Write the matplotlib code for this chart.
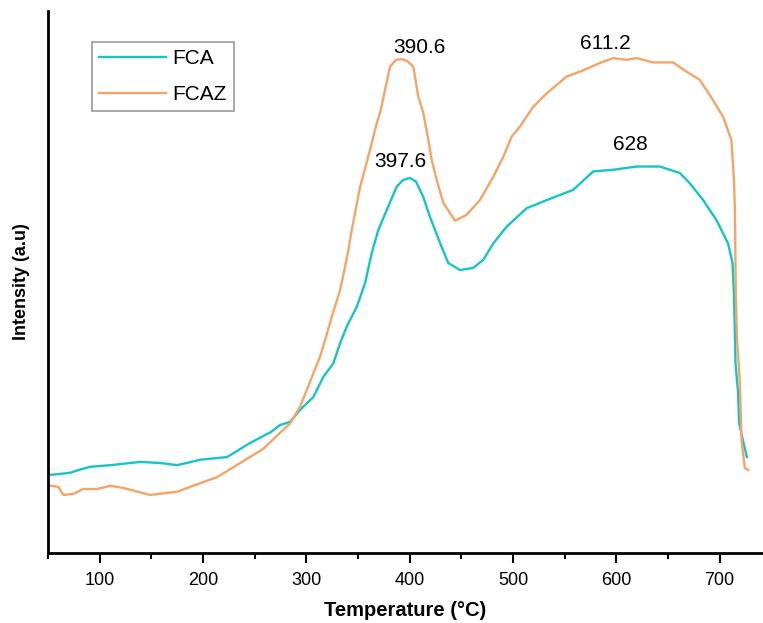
import matplotlib
matplotlib.use("Agg")
import matplotlib.pyplot as plt
from matplotlib.ticker import MultipleLocator

plt.rcParams['font.family'] = ['Liberation Sans', 'DejaVu Sans']

# TPR profiles, intensity in arbitrary units (0-100 scale)
fca_temp = [52.2, 61.9, 71.6, 79.3, 90.9, 110.3, 139.3, 158.7, 175.1, 197.3,
            223.4, 245.6, 265.6, 274.6, 284.3, 294.0, 306.9, 316.5, 326.2, 332.7,
            339.2, 348.8, 356.9, 363.3, 369.7, 377.9, 387.5, 393.6, 400.4, 406.2,
            413.2, 419.7, 429.4, 437.4, 448.7, 461.6, 471.3, 480.9, 493.9, 513.2,
            532.6, 558.3, 577.7, 597.0, 619.6, 642.2, 661.5, 671.2, 684.1, 697.0,
            708.2, 712.5, 714.0, 714.7, 715.4, 717.9, 718.9, 722.5, 726.4]
fca_int = [14.4, 14.6, 14.8, 15.3, 15.9, 16.2, 16.8, 16.6, 16.2, 17.2,
           17.7, 20.3, 22.3, 23.6, 24.2, 26.4, 28.8, 32.5, 35.0, 38.7,
           41.8, 45.4, 49.8, 55.3, 59.6, 63.3, 67.6, 68.8, 69.2, 68.5,
           65.7, 62.0, 57.2, 53.5, 52.2, 52.6, 54.1, 57.1, 60.2, 63.6,
           65.1, 67.0, 70.4, 70.7, 71.3, 71.3, 70.1, 68.2, 65.1, 61.4,
           57.1, 53.5, 47.3, 41.1, 35.0, 29.5, 24.0, 20.8, 17.7]

fcaz_temp = [52.2, 60.0, 64.8, 74.5, 84.1, 97.7, 110.3, 122.8, 148.9, 175.1,
             187.6, 213.7, 236.0, 258.2, 277.6, 284.3, 294.0, 300.5, 306.9, 313.3,
             318.2, 324.7, 332.7, 337.5, 340.7, 344.0, 352.0, 361.7, 368.2, 371.4,
             381.0, 386.8, 392.4, 397.5, 403.6, 408.4, 413.2, 418.1, 421.4, 426.2,
             432.6, 443.9, 455.2, 468.0, 480.9, 490.6, 498.7, 506.8, 519.6, 532.6,
             551.9, 564.8, 584.1, 597.0, 610.0, 619.7, 635.7, 655.0, 668.0, 680.8,
             693.4, 703.3, 711.4, 713.9, 714.9, 715.2, 715.7, 716.9, 719.5, 721.2,
             724.4, 727.7]
fcaz_int = [12.4, 12.2, 10.7, 10.9, 11.8, 11.8, 12.4, 12.0, 10.7, 11.3,
            12.2, 14.0, 16.6, 19.2, 22.7, 23.9, 27.0, 30.1, 33.2, 36.2,
            39.3, 43.6, 48.5, 52.8, 55.9, 59.6, 67.5, 74.4, 79.3, 81.2,
            89.7, 91.0, 91.1, 90.8, 89.7, 84.2, 81.2, 76.2, 72.5, 68.8,
            64.6, 61.3, 62.4, 65.1, 69.4, 73.1, 76.8, 78.7, 82.3, 84.8,
            87.9, 88.8, 90.4, 91.3, 91.0, 91.3, 90.5, 90.5, 88.8, 87.3,
            83.6, 80.5, 76.2, 68.8, 62.7, 56.5, 47.2, 39.3, 31.9, 20.8,
            15.7, 15.3]

# peak annotations: text, x, y
peak_labels = ["390.6", "397.6", "611.2", "628"]
peak_x = [409.6, 391.2, 589.5, 613.2]
peak_y = [93.2, 72.2, 94.0, 75.3]

fig = plt.figure(figsize=(7.63, 6.23), dpi=100)
ax = fig.add_axes([0.0629, 0.1124, 0.9371, 0.870])

ax.plot(fca_temp, fca_int, color='#17C4C4', lw=1.7, label='FCA')
ax.plot(fcaz_temp, fcaz_int, color='#F4A466', lw=1.7, label='FCAZ')

for t, x, y in zip(peak_labels, peak_x, peak_y):
    ax.text(x, y, t, ha='center', va='center', fontsize=15)

ax.set_xlim(50, 742)
ax.set_ylim(0, 100)
ax.xaxis.set_major_locator(MultipleLocator(100))
ax.xaxis.set_minor_locator(MultipleLocator(50))
ax.set_yticks([])
ax.tick_params(axis='x', which='major', length=7, width=1.5, labelsize=13, pad=7)
ax.tick_params(axis='x', which='minor', length=4, width=1.5)

ax.spines['top'].set_visible(False)
ax.spines['right'].set_visible(False)
ax.spines['left'].set_linewidth(2)
ax.spines['bottom'].set_linewidth(2)

ax.set_xlabel('Temperature (°C)', fontsize=14.5, fontweight='bold', labelpad=8)
ax.set_ylabel('Intensity (a.u)', fontsize=13, fontweight='bold', labelpad=13)

leg = ax.legend(loc='upper left', bbox_to_anchor=(0.0615, 0.943), fontsize=15,
                handlelength=3.2, handletextpad=0.3, borderaxespad=0,
                fancybox=False, edgecolor='#999999', framealpha=1,
                labelspacing=0.8, borderpad=0.35)
leg.get_frame().set_linewidth(1.2)

fig.savefig('out.png', dpi=100)
